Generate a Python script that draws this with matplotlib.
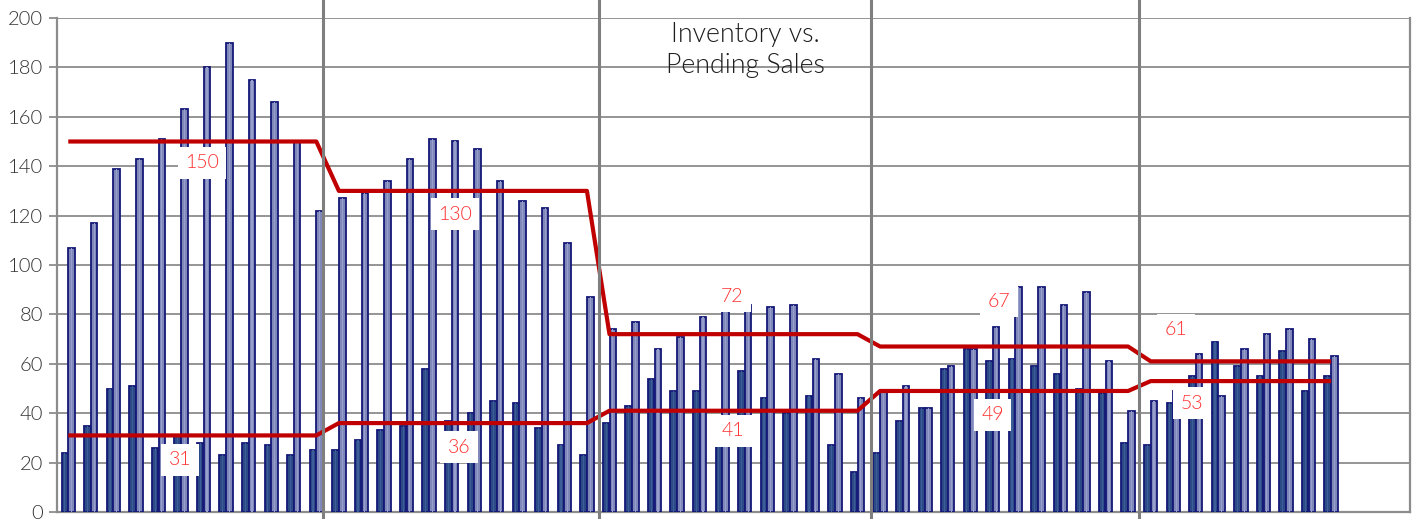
import numpy as np
import matplotlib
matplotlib.use("Agg")
import matplotlib.pyplot as plt
from matplotlib import transforms

plt.rcParams['font.family'] = ['Lato', 'DejaVu Sans']

# Monthly counts, five years (last year has 9 months of data)
pending = [
    24, 35, 50, 51, 26, 31, 28, 23, 28, 27, 23, 25,
    25, 29, 33, 35, 58, 37, 40, 45, 44, 34, 27, 23,
    36, 43, 54, 49, 49, 33, 57, 46, 40, 47, 27, 16,
    24, 37, 42, 58, 66, 61, 62, 59, 56, 50, 48, 28,
    27, 44, 55, 69, 59, 55, 65, 49, 55,
]
inventory = [
    107, 117, 139, 143, 151, 163, 180, 190, 175, 166, 150, 122,
    127, 129, 134, 143, 151, 150, 147, 134, 126, 123, 109, 87,
    74, 77, 66, 71, 79, 82, 84, 83, 84, 62, 56, 46,
    49, 51, 42, 59, 66, 75, 91, 91, 84, 89, 61, 41,
    45, 49, 64, 47, 66, 72, 74, 70, 63,
]
# Yearly averages
inventory_avg = [150, 130, 72, 67, 61]
pending_avg = [31, 36, 41, 49, 53]
months_per_year = 12
total_slots = 60

y_ticks = list(range(0, 201, 20))

# ---- layout -------------------------------------------------------------
W, H, DPI = 1414, 519, 100
fig = plt.figure(figsize=(W / DPI, H / DPI), dpi=DPI)
ax_l, ax_r, ax_b, ax_t = 57, 1410, 7, 501
ax = fig.add_axes([ax_l / W, ax_b / H, (ax_r - ax_l) / W, (ax_t - ax_b) / H])

n = len(pending)
x = np.arange(n)
bw = 0.29
off = 0.15

dark_fill = '#2B4A86'
light_fill = '#8088BA'
edge = '#141877'

ax.bar(x - off, pending, width=bw, color=dark_fill, edgecolor=edge,
       linewidth=1.3, zorder=3)
ax.bar(x + off, inventory, width=bw, color=light_fill, edgecolor=edge,
       linewidth=1.3, zorder=3)

# faint highlight stripe down the middle of each bar
ax.bar(x - off, pending, width=bw * 0.18, color='#3d5e98', linewidth=0,
       zorder=3.1)
ax.bar(x + off, inventory, width=bw * 0.18, color='#979fcc', linewidth=0,
       zorder=3.1)

# step lines of yearly averages, one point per month
inv_line = [inventory_avg[i // months_per_year] for i in range(n)]
pen_line = [pending_avg[i // months_per_year] for i in range(n)]
red = '#C00000'
ax.plot(x, inv_line, color=red, lw=3.0, zorder=4, solid_capstyle='butt')
ax.plot(x, pen_line, color=red, lw=3.0, zorder=4, solid_capstyle='butt')

# average value labels
inv_label_pos = [(5.93, 141.3), (17.15, 120.6), (29.43, 87.4), (41.27, 85.4), (49.12, 73.7)]
pen_label_pos = [(4.95, 21.1), (17.33, 26.3), (29.48, 32.8), (41.0, 39.3), (49.83, 44.1)]
for vals, poss in ((inventory_avg, inv_label_pos), (pending_avg, pen_label_pos)):
    for v, (lx, ly) in zip(vals, poss):
        ax.text(lx, ly, f'{v}', color='#FF2E2E', fontsize=14, fontweight=300,
                ha='center', va='center', zorder=6,
                bbox=dict(boxstyle='square,pad=0.38', fc='white', ec='none'))

# axes styling
grid_c = '#8C8C8C'
ax.set_xlim(-0.5, total_slots - 0.5)
ax.set_ylim(0, 200)
ax.set_yticks(y_ticks)
ax.set_yticklabels([str(t) for t in y_ticks])
ax.set_xticks([])
ax.yaxis.grid(True, color=grid_c, lw=1.3, zorder=0)
ax.set_axisbelow(True)
ax.tick_params(axis='y', length=6, width=1.3, color=grid_c, labelsize=14.5,
               labelcolor='#333333', pad=4)
for lbl in ax.get_yticklabels():
    lbl.set_fontweight(300)
for side in ('left', 'right', 'bottom'):
    ax.spines[side].set_color(grid_c)
    ax.spines[side].set_linewidth(1.6)
ax.spines['top'].set_visible(False)

# year separators spanning the full height of the figure
trans = transforms.blended_transform_factory(ax.transData, ax.transAxes)
sep_x = [11.3, 23.55, 35.6, 47.5]
for sx in sep_x:
    ax.plot([sx, sx], [-ax_b / (ax_t - ax_b), (H - ax_b) / (ax_t - ax_b)],
            transform=trans, color='#7F7F7F', lw=2.2, clip_on=False, zorder=5)

fig.text(745 / W, 1 - 50 / H, 'Inventory vs.\nPending Sales', ha='center',
         va='center', fontsize=19.3, fontweight=300, color='#1E1E1E',
         linespacing=1.28)

fig.savefig('out.png', dpi=DPI)
